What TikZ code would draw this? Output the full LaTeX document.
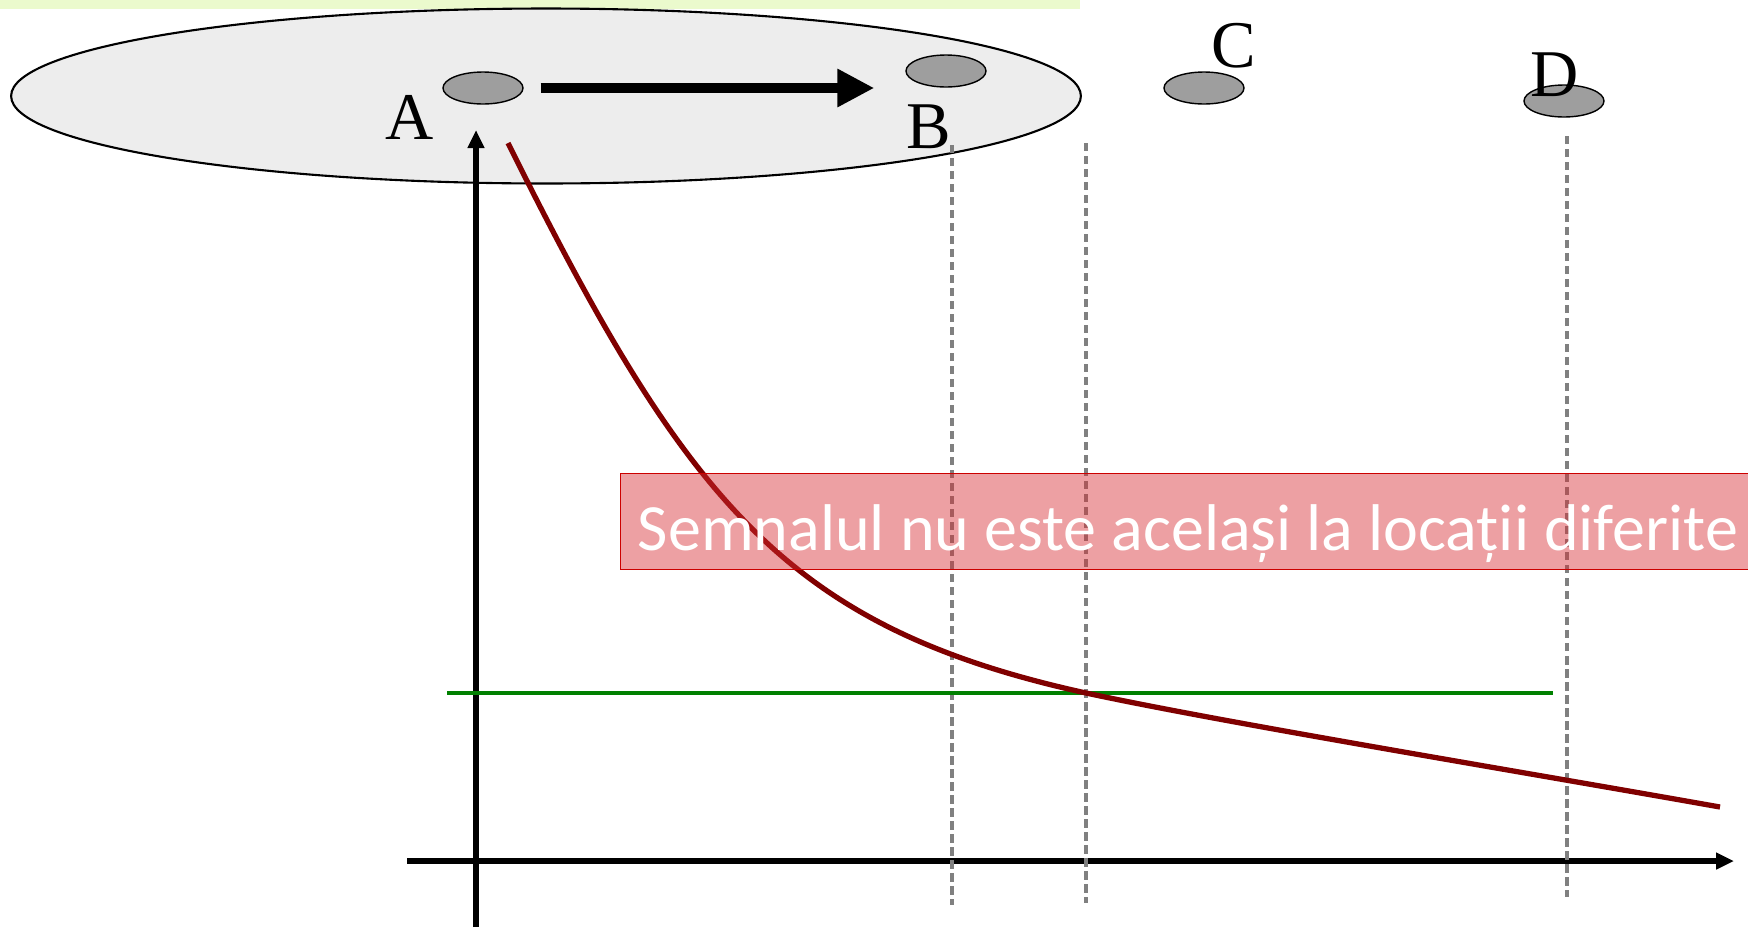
\documentclass[tikz,border=0pt]{standalone}
\usepackage{fontspec}
\usepackage{tikz}
\usetikzlibrary{arrows.meta, shapes.geometric}
\newfontfamily\labelfont{Liberation Serif}
\newfontfamily\notefont{Carlito}
\definecolor{cellgray}{RGB}{237,237,237}
\definecolor{sitegray}{RGB}{158,158,158}
\definecolor{signalred}{RGB}{128,0,0}
\definecolor{levelgreen}{RGB}{0,128,0}
\definecolor{notered}{RGB}{215,45,50}
\definecolor{noteborder}{RGB}{204,0,0}
\definecolor{topbar}{RGB}{235,250,205}

\begin{document}
\begin{tikzpicture}[
        x=0.02cm, y=-0.02cm,
        site/.style={ellipse, draw=black, thick, fill=sitegray,
                     minimum width=1.6cm, minimum height=0.64cm, inner sep=0pt},
        sitelabel/.style={font=\labelfont\fontsize{38}{40}\selectfont,
                          inner sep=0pt, anchor=base},
        axis/.style={line width=3pt, -{Triangle[length=0.36cm, width=0.32cm]}},
        marker/.style={gray, line width=2pt, dash pattern=on 4.8pt off 2.6pt}
      ]
      \useasboundingbox (0,0) rectangle (1748,927);
      \fill[topbar] (0,0) rectangle (1080,9);

      % coverage area
      \node[ellipse, draw=black, line width=1.2pt, fill=cellgray,
            minimum width=21.4cm, minimum height=3.5cm] (cell) at (546,96) {};

      \node[site] (A) at (483,88) {};
      \node[site] (B) at (946,71) {};
      \node[site] (C) at (1204,88) {};
      \node[site] (D) at (1564,101) {};

      \node[sitelabel] (lblA) at (410,139) {A};
      \node[sitelabel] (lblB) at (929,148) {B};
      \node[sitelabel] (lblC) at (1234,67) {C};
      \node[sitelabel] (lblD) at (1555,96) {D};

      \draw[line width=6.2pt, -{Triangle[length=0.74cm, width=0.72cm]},
            shorten <=0.34cm, shorten >=0.62cm]
        (A.east) -- (A.east -| B.west);

      % axes
      \draw[axis] (476,927) -- (476,130);
      \draw[axis] (407,861) -- (1734,861);

      \draw[marker] (952,145) -- (952,905);
      \draw[marker] (1086,143) -- (1086,903);
      \draw[marker] (1567,136) -- (1567,897);

      \draw[levelgreen, line width=2pt] (447,693) -- (1553,693);

      \draw[signalred, line width=3pt]
        (508,143) .. controls (687,503) and (786,627) .. (1086,693)
                  .. controls (1226,723) and (1500,768) .. (1720,807);

      \node[fill=notered, fill opacity=0.45, draw=noteborder,
            minimum width=22.8cm, minimum height=1.92cm] (note) at (1190,521) {};
      \node[text=white, inner sep=0pt, anchor=base,
            font=\notefont\fontsize{37.6}{40}\selectfont] (notetext) at (1188,550)
        {Semnalul nu este același la locații diferite};
    \end{tikzpicture}
\end{document}
